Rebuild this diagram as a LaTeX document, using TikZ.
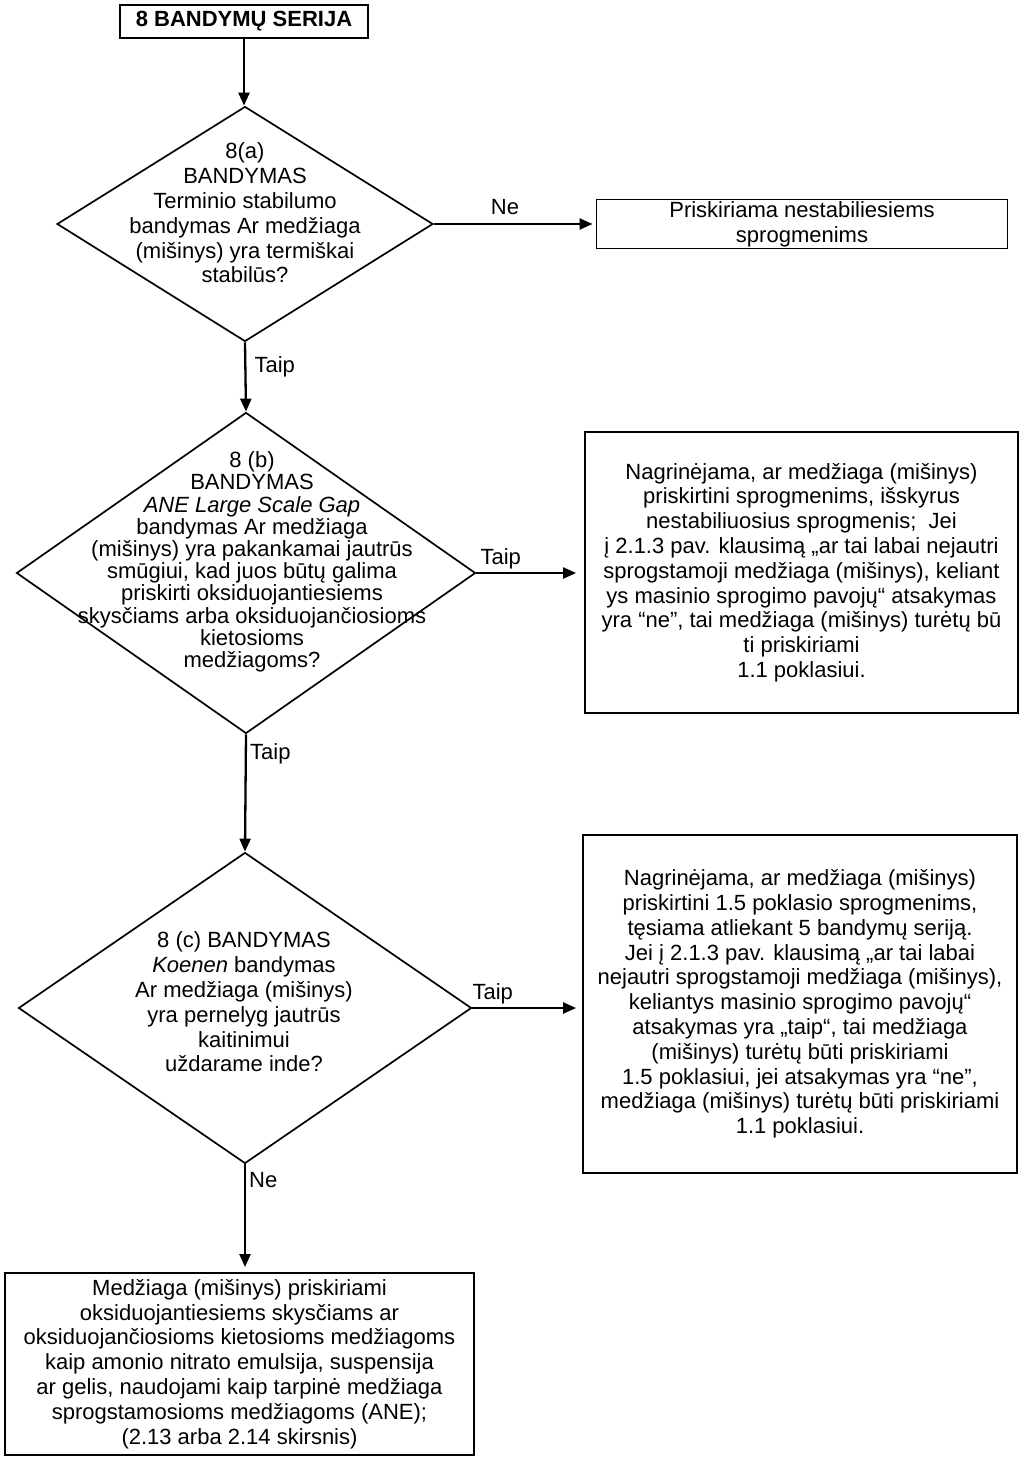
\documentclass[tikz,border=0pt]{standalone}
\usepackage{fontspec}
\setmainfont{Liberation Sans}
\usetikzlibrary{positioning, arrows.meta, shapes.geometric}

\begin{document}
\begin{tikzpicture}[x=1pt, y=-1pt, font=\fontsize{22}{24.8}\selectfont,
			deze/.style={draw, line width=1.9pt, inner sep=0pt, align=center},
			rombas/.style={draw, diamond, line width=1.7pt, inner sep=0pt},
			tekstas/.style={align=center, inner sep=0pt},
			rodykle/.style={-{Triangle[length=13pt, width=11pt]}, line width=2.3pt},
			zyme/.style={inner sep=3pt}]
			\useasboundingbox (0,0) rectangle (1023,1464);
			\node[deze, minimum width=248pt, minimum height=33pt] (serija) at (244,21.5)
				{\bfseries 8 BANDYMŲ SERIJA};
			% 8(a)
			\node[rombas, minimum width=376pt, minimum height=235pt] (dA) at (245,224) {};
			\node[tekstas] (tA) at (245,213)
				{8(a)\\ BANDYMAS\\ Terminio stabilumo\\ bandymas Ar medžiaga\\
				 (mišinys) yra termiškai\\ stabilūs?};
			\node[deze, minimum width=411pt, minimum height=49pt] (nestab) at (802,224)
				{Priskiriama nestabiliesiems\\ sprogmenims};
			% 8(b)
			\node[rombas, minimum width=459pt, minimum height=321pt] (dB) at (246,573) {};
			\node[tekstas, font=\fontsize{22}{22.2}\selectfont] (tB) at (252,562)
				{8 (b)\\ BANDYMAS\\ \itshape ANE Large Scale Gap\\ bandymas Ar medžiaga\\
				 (mišinys) yra pakankamai jautrūs\\ smūgiui, kad juos būtų galima\\
				 priskirti oksiduojantiesiems\\ skysčiams arba oksiduojančiosioms\\
				 kietosioms\\ medžiagoms?};
			\node[deze, minimum width=433pt, minimum height=281pt] (kB) at (801.5,572.5)
				{Nagrinėjama, ar medžiaga (mišinys)\\ priskirtini sprogmenims, išskyrus\\
				 nestabiliuosius sprogmenis;\ \ Jei\\ į 2.1.3 pav. klausimą „ar tai labai nejautri\\
				 sprogstamoji medžiaga (mišinys), keliant\\ ys masinio sprogimo pavojų“ atsakymas\\
				 yra “ne”, tai medžiaga (mišinys) turėtų bū\\ ti priskiriami\\ 1.1 poklasiui.};
			% 8(c)
			\node[rombas, minimum width=453pt, minimum height=311pt] (dC) at (245,1008) {};
			\node[tekstas] (tC) at (244,1002)
				{8 (c) BANDYMAS\\ \textit{Koenen} bandymas\\ Ar medžiaga (mišinys)\\
				 yra pernelyg jautrūs\\ kaitinimui\\ uždarame inde?};
			\node[deze, minimum width=434pt, minimum height=338pt] (kC) at (800,1004)
				{Nagrinėjama, ar medžiaga (mišinys)\\ priskirtini 1.5 poklasio sprogmenims,\\
				 tęsiama atliekant 5 bandymų seriją.\\ Jei į 2.1.3 pav. klausimą „ar tai labai\\
				 nejautri sprogstamoji medžiaga (mišinys),\\ keliantys masinio sprogimo pavojų“\\
				 atsakymas yra „taip“, tai medžiaga\\ (mišinys) turėtų būti priskiriami\\
				 1.5 poklasiui, jei atsakymas yra “ne”,\\ medžiaga (mišinys) turėtų būti priskiriami\\
				 1.1 poklasiui.};
			\node[deze, minimum width=469pt, minimum height=182pt] (galas) at (239.5,1364)
				{Medžiaga (mišinys) priskiriami\\ oksiduojantiesiems skysčiams ar\\
				 oksiduojančiosioms kietosioms medžiagoms\\ kaip amonio nitrato emulsija, suspensija\\
				 ar gelis, naudojami kaip tarpinė medžiaga\\ sprogstamosioms medžiagoms (ANE);\\
				 (2.13 arba 2.14 skirsnis)};
			% rodyklės
			\draw[rodykle] (serija.south) -- (serija.south |- dA.north);
			\draw[rodykle, shorten >=3pt] (dA.east) -- node[zyme, pos=0.44, above, yshift=5pt] {Ne} (nestab.west);
			\draw[rodykle] (dA.south) -- node[zyme, pos=0.35, right, xshift=5pt] {Taip} (dB.north);
			\draw[rodykle, shorten >=8pt] (dB.east) -- node[zyme, pos=0, above right] {Taip} (dB.east -| kB.west);
			\draw[rodykle] (dB.south) -- node[zyme, pos=0, below right, yshift=-5pt] {Taip} (dC.north);
			\draw[rodykle, shorten >=6pt] (dC.east) -- node[zyme, pos=0, above right, xshift=-4pt] {Taip} (dC.east -| kC.west);
			\draw[rodykle, shorten >=5pt] (dC.south) -- node[zyme, pos=0, below right, yshift=-4pt] {Ne} (dC.south |- galas.north);
		\end{tikzpicture}
\end{document}
